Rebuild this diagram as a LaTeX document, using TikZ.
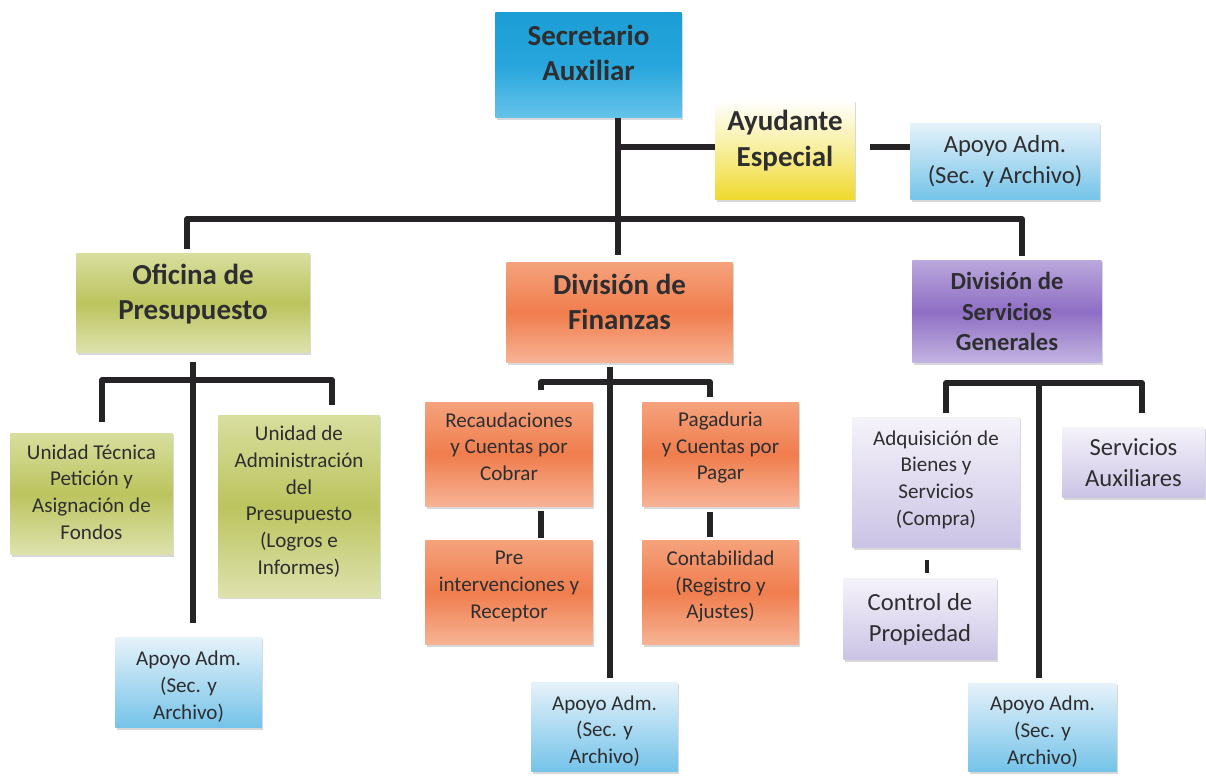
\documentclass[tikz,border=0pt]{standalone}
\usepackage{fontspec}
\setmainfont{Carlito}
\usetikzlibrary{shadows,calc}
\definecolor{txt}{HTML}{2E2E30}
\definecolor{lnc}{HTML}{252326}
\tikzset{
  box/.style={inner sep=0pt, draw=none,
    drop shadow={shadow xshift=0.8pt, shadow yshift=-1pt, opacity=0.25, fill=black!60}},
  bluebox/.style={box, top color=cA, bottom color=cC, middle color=cB},
  yelbox/.style={box, top color=white, bottom color=yB, middle color=yA},
  lbbox/.style={box, top color=lbA, bottom color=lbB},
  grnbox/.style={box, top color=gA, bottom color=gC, middle color=gB},
  orgbox/.style={box, top color=oA, bottom color=oC, middle color=oB},
  purbox/.style={box, top color=pA, bottom color=pC, middle color=pB},
  lpbox/.style={box, top color=lpA, bottom color=lpB},
  lbl/.style={inner sep=0pt, align=center, text=txt},
  big/.style={lbl, font=\fontsize{16.5}{20.3}\selectfont\bfseries},
  mid/.style={lbl, font=\fontsize{14}{17.6}\selectfont},
  midb/.style={lbl, font=\fontsize{14}{17.4}\selectfont\bfseries},
  small/.style={lbl, font=\fontsize{12}{15.2}\selectfont},
  conn/.style={draw=lnc, line width=3.3pt, line join=round},
}
\definecolor{cA}{HTML}{1C9DD5}\definecolor{cB}{HTML}{26A6DC}\definecolor{cC}{HTML}{66C3EA}
\definecolor{yA}{HTML}{F8EE9A}\definecolor{yB}{HTML}{EFD92C}
\definecolor{lbA}{HTML}{E6F2FA}\definecolor{lbB}{HTML}{74C3E9}
\definecolor{gA}{HTML}{D8DE9E}\definecolor{gB}{HTML}{BCC45E}\definecolor{gC}{HTML}{DEE2AE}
\definecolor{oA}{HTML}{F5A27C}\definecolor{oB}{HTML}{F07D4D}\definecolor{oC}{HTML}{F7B496}
\definecolor{pA}{HTML}{BBA8DD}\definecolor{pB}{HTML}{8E6EC3}\definecolor{pC}{HTML}{C3B4E2}
\definecolor{lpA}{HTML}{F5F3FA}\definecolor{lpB}{HTML}{CBC3E5}
% name, x1, y1, x2, y2, box style, text style, text shift up (px), text
\newcommand\bxx[9]{%
  \node[#6, minimum width={(#4-#2)*0.5669pt}, minimum height={(#5-#3)*0.5669pt}] (#1) at ({(#2+#4)/2},{(#3+#5)/2}) {};
  \node[#7] (#1t) at ([yshift={#8*0.5669pt}]#1.center) {#9};}
\begin{document}
\begin{tikzpicture}[x=0.02cm, y=-0.02cm]
\useasboundingbox (0,0) rectangle (1206,775);
\fill[white] (0,0) rectangle (1206,775);
% boxes
\bxx{sec}{495}{12}{682}{118}{bluebox}{big}{12}{Secretario\\Auxiliar}
\bxx{ayu}{715}{100}{855}{200}{yelbox}{big}{9.5}{Ayudante\\Especial}
\bxx{apT}{910}{123}{1100}{200}{lbbox}{mid}{0}{Apoyo Adm.\\(Sec. y Archivo)}
\bxx{ofi}{76}{253}{310}{353}{grnbox}{big}{9}{Oficina de\\Presupuesto}
\bxx{fin}{506}{262}{733}{363}{orgbox}{big}{10.5}{División de\\Finanzas}
\bxx{ser}{912}{260}{1102}{363}{purbox}{midb}{0}{División de\\Servicios\\Generales}
\bxx{uni}{10}{433}{173}{555}{grnbox}{small}{2}{Unidad Técnica\\Petición y\\Asignación de\\Fondos}
\bxx{adm}{218}{415}{380}{598}{grnbox}{small}{5}{Unidad de\\Administración\\del\\Presupuesto\\(Logros e\\Informes)}
\bxx{apL}{115}{637}{262}{728}{lbbox}{small}{-4}{Apoyo Adm.\\(Sec. y\\Archivo)}
\bxx{rec}{425}{402}{593}{507}{orgbox}{small}{8}{Recaudaciones\\y Cuentas por\\Cobrar}
\bxx{pag}{642}{402}{799}{507}{orgbox}{small}{7}{Pagaduria\\y Cuentas por\\Pagar}
\bxx{pre}{425}{540}{593}{645}{orgbox}{small}{6}{Pre\\intervenciones y\\Receptor}
\bxx{con}{642}{540}{799}{645}{orgbox}{small}{6}{Contabilidad\\(Registro y\\Ajustes)}
\bxx{apM}{531}{682}{678}{772}{lbbox}{small}{-4}{Apoyo Adm.\\(Sec. y\\Archivo)}
\bxx{adq}{852}{417}{1020}{548}{lpbox}{small}{3}{Adquisición de\\Bienes y\\Servicios\\(Compra)}
\bxx{aux}{1062}{427}{1205}{498}{lpbox}{mid}{0}{Servicios\\Auxiliares}
\bxx{ctl}{843}{578}{997}{660}{lpbox}{mid}{0}{Control de\\Propiedad}
\bxx{apR}{968}{683}{1117}{772}{lbbox}{small}{-4}{Apoyo Adm.\\(Sec. y\\Archivo)}
% junction coordinates
\coordinate (j0) at (618,219);
\coordinate (j1) at (618,147);
\coordinate (j2) at (870,147);
\coordinate (ob) at (193,380);
\coordinate (fb) at (610,382);
\coordinate (sb) at (1039,383);
% connectors
\draw[conn] (sec.south -| j0) -- (j0);
\draw[conn] (j1) -- (ayu.west |- j1);
\draw[conn] (j2) -- (apT.west |- j2);
\draw[conn, shorten <=2pt, shorten >=2pt] (ofi.north -| 187,0) -- (187,219) -- (1022,219) -- (ser.north -| 1022,0);
\draw[conn, shorten >=4pt] (j0) -- (fin.north -| j0);
% Oficina
\draw[conn, shorten <=5pt, shorten >=8pt] (ofi.south -| ob) -- (apL.north -| ob);
\draw[conn, shorten <=6pt, shorten >=5.5pt] (uni.north -| 102,0) -- (102,380) -- (332,380) -- (adm.north -| 332,0);
% Finanzas
\draw[conn, shorten <=2pt, shorten >=2pt] (fin.south -| fb) -- (apM.north -| fb);
\draw[conn, shorten <=6.5pt, shorten >=3pt] (rec.north -| 541,0) -- (541,382) -- (710,382) -- (pag.north -| 710,0);
\draw[conn, shorten <=2pt, shorten >=1pt] (rec.south -| 541,0) -- (pre.north -| 541,0);
\draw[conn, shorten <=2.5pt, shorten >=1.5pt] (pag.south -| 710,0) -- (con.north -| 710,0);
% Servicios
\draw[conn, shorten <=2pt, shorten >=8pt] (adq.north -| 946,0) -- (946,383) -- (1142,383) -- (aux.north -| 1142,0);
\draw[conn, shorten >=3pt] (sb) -- (apR.north -| sb);
\draw[conn, line width=2.8pt, shorten <=6.8pt, shorten >=2.8pt] (adq.south -| 927,0) -- (ctl.north -| 927,0);
\end{tikzpicture}
\end{document}
